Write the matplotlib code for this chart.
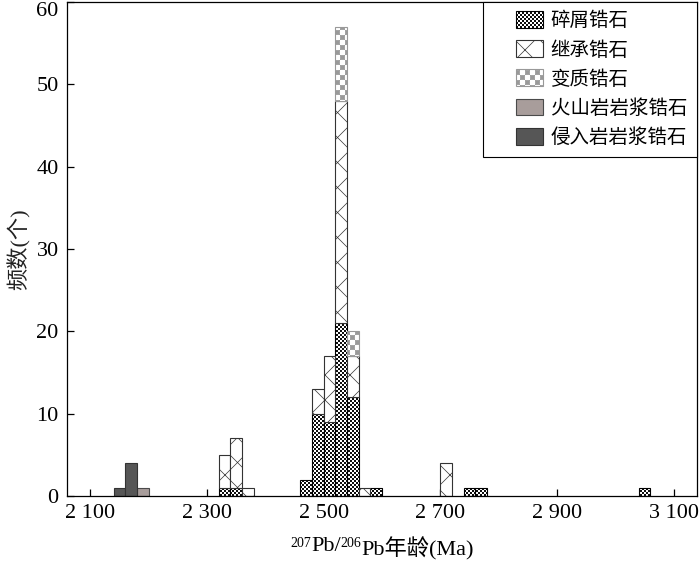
import warnings
import numpy as np
import matplotlib
matplotlib.use('Agg')
import matplotlib.pyplot as plt
import matplotlib.hatch as mhatch
import matplotlib.patches as mpatches
from matplotlib.path import Path
from matplotlib.legend_handler import HandlerPatch
from matplotlib.offsetbox import TextArea, HPacker, AnnotationBbox

warnings.filterwarnings('ignore')

# 20 Ma bins, left edge of each bin
bin_left = [2140, 2160, 2180, 2320, 2340, 2360, 2460, 2480, 2500, 2520, 2540, 2560, 2580, 2700, 2740, 2760, 3040]
detrital = [0, 0, 0, 1, 1, 0, 2, 10, 9, 21, 12, 0, 1, 0, 1, 1, 1]
inherited = [0, 0, 0, 4, 6, 1, 0, 3, 8, 27, 5, 1, 0, 4, 0, 0, 0]
metamorphic = [0, 0, 0, 0, 0, 0, 0, 0, 0, 9, 3, 0, 0, 0, 0, 0, 0]
volcanic = [0, 0, 1, 0, 0, 0, 0, 0, 0, 0, 0, 0, 0, 0, 0, 0, 0]
intrusive = [1, 4, 0, 0, 0, 0, 0, 0, 0, 0, 0, 0, 0, 0, 0, 0, 0]

labels = ['碎屑锆石', '继承锆石', '变质锆石', '火山岩岩浆锆石', '侵入岩岩浆锆石']
xticks = [2100, 2300, 2500, 2700, 2900, 3100]
xtick_labels = ['2 100', '2 300', '2 500', '2 700', '2 900', '3 100']
yticks = [0, 10, 20, 30, 40, 50, 60]

plt.rcParams['font.family'] = ['Liberation Serif', 'Noto Sans CJK SC']
plt.rcParams['hatch.linewidth'] = 0.5


# checkerboard hatch: 'c' -> fine squares, 'k' -> coarse squares
class CheckerHatch(mhatch.HatchPatternBase):
    def __init__(self, hatch, density):
        self.cells = 50 * hatch.count('c') + 20 * hatch.count('k')
        self.num_vertices = self.cells * self.cells // 2 * 5

    def set_vertices_and_codes(self, vertices, codes):
        n = self.cells
        step = 1.0 / n
        pad = 0.5 / 72 / 2  # half of the hatch stroke, in tile units
        ii, jj = np.meshgrid(np.arange(n), np.arange(n))
        keep = (ii + jj) % 2 == 0
        x0 = ii[keep] * step + pad
        y0 = jj[keep] * step + pad
        x1 = x0 + step - 2 * pad
        y1 = y0 + step - 2 * pad
        sq = np.stack([np.c_[x0, y0], np.c_[x1, y0], np.c_[x1, y1],
                       np.c_[x0, y1], np.c_[x0, y0]], axis=1)
        vertices[:] = sq.reshape(-1, 2)
        codes[:] = np.tile([Path.MOVETO, Path.LINETO, Path.LINETO,
                            Path.LINETO, Path.CLOSEPOLY], len(x0))


# 'z' -> crossed diagonals, a bit tighter than 'x'
class CrossHatch(mhatch.HatchPatternBase):
    def __init__(self, hatch, density):
        fake = 'x' * hatch.count('z')
        self.ne = mhatch.NorthEastHatch(fake, 8)
        self.se = mhatch.SouthEastHatch(fake, 8)
        self.num_vertices = self.ne.num_vertices + self.se.num_vertices

    def set_vertices_and_codes(self, vertices, codes):
        k = self.ne.num_vertices
        self.ne.set_vertices_and_codes(vertices[:k], codes[:k])
        self.se.set_vertices_and_codes(vertices[k:], codes[k:])


mhatch._hatch_types = list(mhatch._hatch_types) + [CheckerHatch, CrossHatch]

styles = [
    dict(facecolor='white', edgecolor='black', hatch='c'),
    dict(facecolor='white', edgecolor='#333333', hatch='z'),
    dict(facecolor='white', edgecolor='#999999', hatch='k'),
    dict(facecolor='#a89d9b', edgecolor='#4a4a4a'),
    dict(facecolor='#565656', edgecolor='#333333'),
]

fig = plt.figure(figsize=(7, 5.65), dpi=100)
ax = fig.add_axes([0.0957, 0.1221, 0.9, 0.8744])

centers = np.array(bin_left) + 10
bottom = np.zeros(len(bin_left))
for values, st in zip([detrital, inherited, metamorphic, volcanic, intrusive], styles):
    v = np.array(values, dtype=float)
    keep = v > 0
    ax.bar(centers[keep], v[keep], width=20, bottom=bottom[keep],
           linewidth=0.8, zorder=2, **st)
    bottom = bottom + v

ax.set_xlim(2060, 3140)
ax.set_ylim(0, 60)
ax.set_xticks(xticks, xtick_labels)
ax.set_yticks(yticks)
ax.tick_params(direction='in', length=5, width=0.9, labelsize=16, pad=6,
               top=False, right=False)
ax.get_yticklabels()[-1].set_verticalalignment('top')
for s in ax.spines.values():
    s.set_linewidth(0.9)

ax.set_ylabel('频数(个)', fontsize=16, labelpad=4, color='#222222')

big = dict(size=16)
small = dict(size=10)
parts = [TextArea('207', textprops=small), TextArea('Pb/', textprops=big),
         TextArea('206', textprops=small), TextArea('Pb年龄(Ma)', textprops=big)]
pack = HPacker(children=parts, align='top', pad=0, sep=0)
ab = AnnotationBbox(pack, (0.5, -0.107), xycoords='axes fraction',
                    frameon=False, box_alignment=(0.5, 0.5))
ax.add_artist(ab)

box_w, box_h = 19.5, 12.2


def right_box(legend, orig_handle, xdescent, ydescent, width, height, fontsize):
    return mpatches.Rectangle((-xdescent + width - box_w, -ydescent + (height - box_h) / 2),
                              box_w, box_h)


handles = [mpatches.Patch(linewidth=0.8, **st) for st in styles]
leg = ax.legend(handles, labels, loc='upper right', borderaxespad=0, fontsize=14,
                handlelength=2.6, handleheight=0.9, handletextpad=0.4,
                labelspacing=0.53, borderpad=0.5, fancybox=False,
                edgecolor='black', framealpha=1,
                handler_map={mpatches.Patch: HandlerPatch(patch_func=right_box)})
leg.get_frame().set_linewidth(0.8)

fig.savefig('out.png', dpi=100)
